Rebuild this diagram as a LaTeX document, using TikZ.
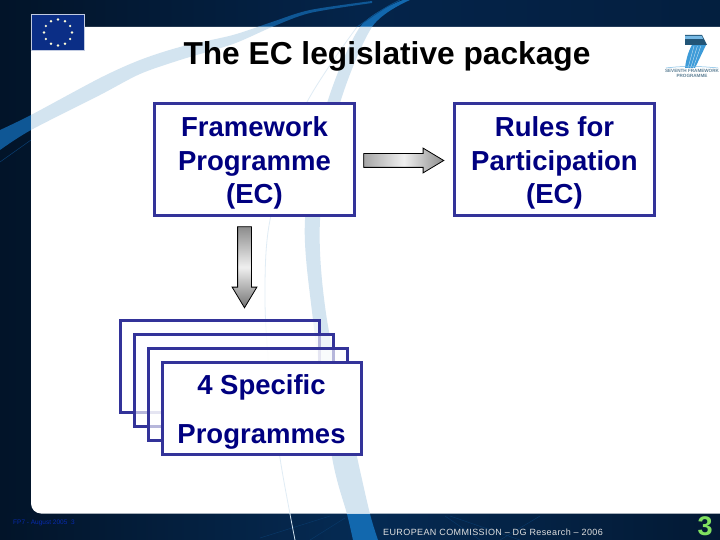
\documentclass[tikz,border=0pt]{standalone}
\usepackage{fontspec}
\setmainfont{Liberation Sans}
\usetikzlibrary{shapes.arrows}
\definecolor{boxblue}{HTML}{333399}
\definecolor{textnavy}{HTML}{000080}
\definecolor{navy}{HTML}{04244A}
\definecolor{swoosh}{HTML}{D3E4F0}
\definecolor{swooshdark}{HTML}{1268AE}
\definecolor{flagblue}{HTML}{0B2E86}
\definecolor{fpblue}{HTML}{3D9BD8}
\definecolor{pagegreen}{HTML}{80E060}
\tikzset{
  x=1pt,y=-1pt,
  bluebox/.style={draw=boxblue,line width=3pt,fill=white,minimum width=200pt,minimum height=112pt,
    align=center,text=textnavy,font=\bfseries\fontsize{27.5}{33.5}\selectfont,inner sep=0pt},
  stackbox/.style={draw=boxblue,line width=3pt,fill=white,fill opacity=0.65,draw opacity=1,minimum width=199pt,minimum height=92pt,inner sep=0pt},
  stacktext/.style={text=textnavy,font=\bfseries\fontsize{27.5}{33}\selectfont,inner sep=0pt},
  blockarrow/.style={single arrow,draw=black,line width=0.8pt,inner sep=6.5pt,single arrow head extend=5.5pt,
    single arrow tip angle=62,minimum width=24pt},
}
\newcommand{\leftband}{plot[smooth] coordinates {(0,130) (31,115) (100,78) (140,60) (180,47) (233,35) (272,22) (310,10) (372,1)}
  -- plot[smooth] coordinates {(372,3) (310,13) (272,27) (233,44) (180,60) (140,74) (100,95) (31,130) (0,150)} -- cycle}
\newcommand{\rightband}{plot[smooth] coordinates {(403,0) (360,27) (325,110) (305,220) (313,320) (332,457) (347,514) (353,540)}
  -- plot[smooth] coordinates {(378,540) (370,514) (357,457) (327,320) (320,220) (338,110) (372,27) (410,0)} -- cycle}
\newcommand{\thinline}{plot[smooth] coordinates {(357,27) (303,110) (270,220) (265,300) (270,380) (280,458) (290,514) (295,540)}}
\newcommand{\panel}{(31,27) -- (31,513.5) -- (740,513.5) -- (740,27) -- cycle}
\begin{document}
\begin{tikzpicture}
\useasboundingbox (0,0) rectangle (720,540);
% dark background
\path[left color=navy!55!black,right color=navy!85!black,middle color=navy] (0,0) rectangle (720,540);
\path[left color=navy!55!black,right color=navy!70!black,middle color=navy!90!swooshdark] (0,513) rectangle (720,540);
\fill[swooshdark!75!navy] \leftband;
\fill[swooshdark] \rightband;
\draw[swooshdark!40!navy,line width=0.5pt] (0,162) -- (31,140);
\draw[swooshdark!30!navy,line width=0.5pt] (260,538) -- (330,516) (310,540) -- (345,518) (480,540) -- (445,516) (450,516) -- (520,540) (540,516) -- (500,540);
% white panel
\fill[white,rounded corners=10pt] \panel;
\begin{scope}
  \clip[rounded corners=10pt] \panel;
  \fill[swoosh] \leftband;
  \fill[swoosh] \rightband;
  \draw[swoosh!70!white,line width=0.8pt] \thinline;
\end{scope}
\begin{scope}
  \clip (0,513.5) rectangle (720,540);
  \draw[swoosh,line width=0.8pt] \thinline;
\end{scope}
\begin{scope}
  \clip (200,0) rectangle (720,27);
  \draw[swooshdark!60!navy,line width=0.8pt] plot[smooth] coordinates {(357,27) (385,8) (400,0)};
\end{scope}
% EU flag
\draw[white!75!flagblue,line width=0.6pt,fill=flagblue] (31.5,14.5) rectangle (84.5,50);
\foreach \a in {0,30,...,330} \fill[white!85!yellow] (58,32.5) ++(\a:14pt and 13pt) circle (1.3pt);
% FP7 logo
\fill[fpblue] (692,45) -- (706,45) -- (695,68) -- (685,68) .. controls (686,60) and (688,52) .. (692,45) -- cycle;
\foreach \t in {0,1,2} \draw[white!70!fpblue,line width=0.4pt] (694+3.4*\t,46) -- (688+2.6*\t,68);
\fill[fpblue!55!black] (685,35) -- (702,35) -- (707,45) -- (685,45) -- cycle;
\fill[fpblue!70!white] (685,36) -- (702,36) -- (703,39) -- (685,39) -- cycle;
\draw[fpblue!70!white,line width=0.5pt] (666,68) .. controls (680,66) and (700,66) .. (718,68);
\node[font=\bfseries\fontsize{4.6}{5.2}\selectfont,text=fpblue!50!black!70!white,align=center,inner sep=0pt] (fplogo) at (692,73.5) {SEVENTH FRAMEWORK\\PROGRAMME};
% title
\node[font=\bfseries\fontsize{31.7}{36}\selectfont,text=black,inner sep=0pt] (title) at (387,56) {The EC legislative package};
% top boxes
\node[bluebox] (fp) at (254.5,160) {\rule{0pt}{26pt}Framework\\Programme\\(EC)};
\node[bluebox] (rules) at (554.5,160) {\rule{0pt}{26pt}Rules for\\Participation\\(EC)};
% block arrows
\node[blockarrow,minimum height=80pt,left color=black!35,right color=black!45,middle color=black!6] (arrowright) at (398,160.5) {};
\node[blockarrow,minimum height=81pt,shape border rotate=270,top color=black!45,bottom color=black!55,middle color=black!6] (arrowdown) at (244.5,261.5) {};
% stacked boxes
\node[stackbox] (s1) at (219.5,366) {};
\node[stackbox] (s2) at (233.5,380) {};
\node[stackbox] (s3) at (247.5,394) {};
\node[stackbox,fill opacity=1] (s4) at (261.5,408) {};
\node[stacktext] (spec) at (261.5,387) {4 Specific};
\node[stacktext] (prog) at (261.5,437) {Programmes};
% footer
\node[anchor=west,font=\fontsize{6.5}{7}\selectfont,text=blue!50!swooshdark!80!black,inner sep=0pt] (ftleft) at (13,523) {FP7 - August 2005 \ 3};
\node[anchor=west,font=\addfontfeature{LetterSpace=4.4}\fontsize{9}{11}\selectfont,text=white!88!black,inner sep=0pt] (ftmid) at (383,532) {EUROPEAN COMMISSION – DG Research – 2006};
\node[font=\bfseries\fontsize{27}{28}\selectfont,text=pagegreen,inner sep=0pt] (page) at (705,526.5) {3};
\end{tikzpicture}
\end{document}
